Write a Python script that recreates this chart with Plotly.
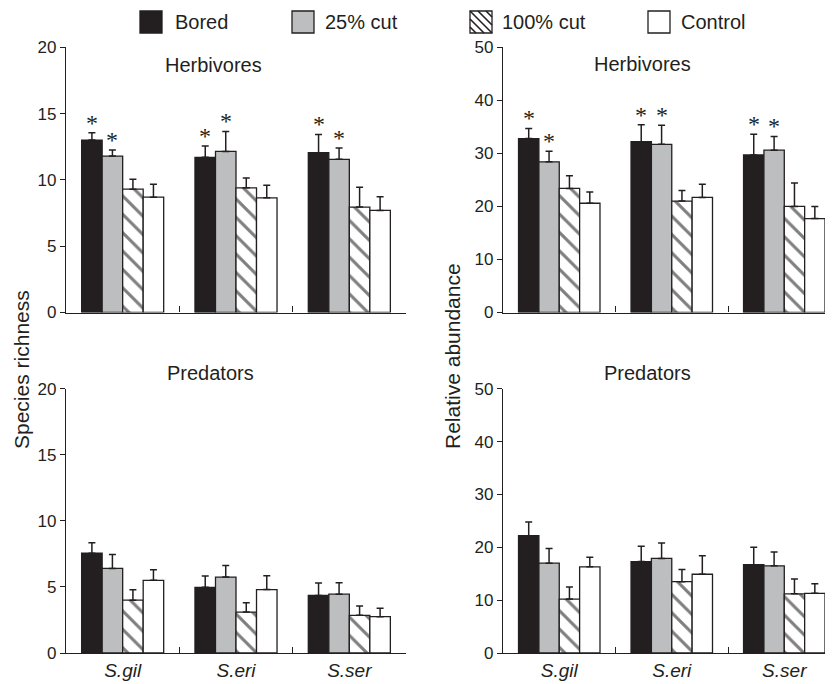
import plotly.graph_objects as go

# ---------------- data ----------------
species = ["S.gil", "S.eri", "S.ser"]
treatments = ["Bored", "25% cut", "100% cut", "Control"]

# Species richness – herbivores
rich_herb_bored = [13.0, 11.7, 12.05]
rich_herb_cut25 = [11.8, 12.15, 11.55]
rich_herb_cut100 = [9.3, 9.4, 7.95]
rich_herb_control = [8.7, 8.65, 7.7]
rich_herb_bored_se = [0.55, 0.86, 1.38]
rich_herb_cut25_se = [0.45, 1.5, 0.85]
rich_herb_cut100_se = [0.75, 0.75, 1.5]
rich_herb_control_se = [0.98, 0.95, 1.03]

# Relative abundance – herbivores
abun_herb_bored = [32.8, 32.2, 29.7]
abun_herb_cut25 = [28.4, 31.7, 30.6]
abun_herb_cut100 = [23.4, 21.0, 20.0]
abun_herb_control = [20.6, 21.7, 17.7]
abun_herb_bored_se = [1.9, 3.2, 3.9]
abun_herb_cut25_se = [2.0, 3.6, 2.6]
abun_herb_cut100_se = [2.4, 2.0, 4.4]
abun_herb_control_se = [2.1, 2.5, 2.3]

# Species richness – predators
rich_pred_bored = [7.55, 4.97, 4.36]
rich_pred_cut25 = [6.4, 5.75, 4.45]
rich_pred_cut100 = [4.0, 3.1, 2.85]
rich_pred_control = [5.5, 4.8, 2.75]
rich_pred_bored_se = [0.8, 0.86, 0.94]
rich_pred_cut25_se = [1.05, 0.88, 0.86]
rich_pred_cut100_se = [0.78, 0.71, 0.71]
rich_pred_control_se = [0.8, 1.04, 0.63]

# Relative abundance – predators
abun_pred_bored = [22.2, 17.3, 16.7]
abun_pred_cut25 = [17.0, 17.9, 16.5]
abun_pred_cut100 = [10.2, 13.5, 11.2]
abun_pred_control = [16.3, 14.9, 11.3]
abun_pred_bored_se = [2.6, 2.9, 3.3]
abun_pred_cut25_se = [2.8, 2.9, 2.6]
abun_pred_cut100_se = [2.3, 2.3, 2.8]
abun_pred_control_se = [1.8, 3.5, 1.8]

# significance markers (*) per treatment, per species
herb_signif = [[True, True, True], [True, True, True], [False] * 3, [False] * 3]
pred_signif = [[False] * 3] * 4

y_ticks_rich = [0, 5, 10, 15, 20]
y_ticks_abun = [0, 10, 20, 30, 40, 50]

panels = [
    dict(ax="", means=[rich_herb_bored, rich_herb_cut25, rich_herb_cut100, rich_herb_control],
         ses=[rich_herb_bored_se, rich_herb_cut25_se, rich_herb_cut100_se, rich_herb_control_se],
         signif=herb_signif),
    dict(ax="2", means=[abun_herb_bored, abun_herb_cut25, abun_herb_cut100, abun_herb_control],
         ses=[abun_herb_bored_se, abun_herb_cut25_se, abun_herb_cut100_se, abun_herb_control_se],
         signif=herb_signif),
    dict(ax="3", means=[rich_pred_bored, rich_pred_cut25, rich_pred_cut100, rich_pred_control],
         ses=[rich_pred_bored_se, rich_pred_cut25_se, rich_pred_cut100_se, rich_pred_control_se],
         signif=pred_signif),
    dict(ax="4", means=[abun_pred_bored, abun_pred_cut25, abun_pred_cut100, abun_pred_control],
         ses=[abun_pred_bored_se, abun_pred_cut25_se, abun_pred_cut100_se, abun_pred_control_se],
         signif=pred_signif),
]

# ---------------- style ----------------
# The page body adds an 8px margin, so the figure is drawn 8px smaller and
# reference pixel positions are converted with that offset.
WIN_W, WIN_H = 833, 684
OFF = 8
W, H = WIN_W - OFF, WIN_H - OFF
INK = "#231f20"
FONT = "Liberation Sans, Arial, Helvetica, sans-serif"
fills = [INK, "#bcbec0", "white", "white"]
patterns = ["", "", "\\", ""]
BARGAP = 0.276
BARW = (1 - BARGAP) / len(treatments)


def px(x):
    return (x - OFF) / W


def py(y):
    return 1 - (y - OFF) / H


fig = go.Figure()
annotations = []

for p in panels:
    xa, ya = "x" + p["ax"], "y" + p["ax"]
    for i, t in enumerate(treatments):
        fig.add_trace(go.Bar(
            x=species, y=p["means"][i], name=t, offsetgroup=t,
            xaxis=xa, yaxis=ya, showlegend=False,
            marker=dict(color=fills[i], line=dict(color=INK, width=1.3),
                        pattern=dict(shape=patterns[i], fgcolor="black", bgcolor="white",
                                     size=13, solidity=0.24)),
            error_y=dict(type="data", symmetric=False, array=p["ses"][i],
                         arrayminus=[0] * len(species), color=INK, thickness=1.5, width=3.5),
        ))
        # significance asterisks above the error bars
        for j, sp in enumerate(species):
            if p["signif"][i][j]:
                annotations.append(dict(
                    x=j + (i - (len(treatments) - 1) / 2) * BARW,
                    y=p["means"][i][j] + p["ses"][i][j],
                    xref=xa, yref=ya, text="*", showarrow=False,
                    xanchor="center", yanchor="middle", yshift=10,
                    font=dict(family="Liberation Serif, Times New Roman, serif",
                              size=24, color=INK)))

xdom_l = [px(66), px(406)]
xdom_r = [px(503), 1.0]
ydom_t = [py(312.5), py(47.3)]
ydom_b = [py(653), py(388.8)]

xcommon = dict(type="category", tickson="boundaries", ticks="inside", ticklen=6,
               tickwidth=1.3, tickcolor=INK, showline=True, linecolor=INK, linewidth=1.3,
               showgrid=False, zeroline=False, automargin=False,
               tickfont=dict(family=FONT, size=19, color=INK, style="italic"))
ycommon = dict(ticks="outside", ticklen=5, tickwidth=1.3, tickcolor=INK, showline=True,
               linecolor=INK, linewidth=1.3, showgrid=False, zeroline=False, automargin=False,
               tickfont=dict(family=FONT, size=17, color=INK))

fig.update_layout(
    width=W, height=H, margin=dict(l=0, r=0, t=0, b=0, pad=0, autoexpand=False),
    paper_bgcolor="white", plot_bgcolor="white",
    barmode="group", bargap=BARGAP, bargroupgap=0,
    showlegend=False,
    xaxis=dict(xcommon, domain=xdom_l, anchor="y", range=[-0.5, 2.5], showticklabels=False),
    yaxis=dict(ycommon, domain=ydom_t, anchor="x", range=[0, 20], tickvals=y_ticks_rich),
    xaxis2=dict(xcommon, domain=xdom_r, anchor="y2", range=[-0.5, 2.433], showticklabels=False),
    yaxis2=dict(ycommon, domain=ydom_t, anchor="x2", range=[0, 50], tickvals=y_ticks_abun),
    xaxis3=dict(xcommon, domain=xdom_l, anchor="y3", range=[-0.5, 2.5]),
    yaxis3=dict(ycommon, domain=ydom_b, anchor="x3", range=[0, 20], tickvals=y_ticks_rich),
    xaxis4=dict(xcommon, domain=xdom_r, anchor="y4", range=[-0.5, 2.433]),
    yaxis4=dict(ycommon, domain=ydom_b, anchor="x4", range=[0, 50], tickvals=y_ticks_abun),
)

shapes = []


def label(text, x, y, size=20, angle=0, xanchor="center"):
    annotations.append(dict(text=text, x=px(x), y=py(y), xref="paper", yref="paper",
                            showarrow=False, xanchor=xanchor, yanchor="middle",
                            textangle=angle, font=dict(family=FONT, size=size, color=INK)))


# panel titles
label("Herbivores", 213, 65)
label("Herbivores", 642, 64)
label("Predators", 210, 373)
label("Predators", 647, 373)
# axis titles
label("Species richness", 21, 370, size=21, angle=-90)
label("Relative abundance", 452, 356, size=21, angle=-90)

# legend (drawn manually with large swatches)
leg_x = [140, 292, 470, 648]
leg_text_x = [173, 323, 500, 679]
sw = 22
ly0, ly1 = 11, 33
for i, t in enumerate(treatments):
    x0, x1 = leg_x[i], leg_x[i] + sw
    shapes.append(dict(type="rect", xref="paper", yref="paper",
                       x0=px(x0), x1=px(x1), y0=py(ly1), y1=py(ly0),
                       fillcolor=fills[i], line=dict(color=INK, width=1.3)))
    if patterns[i]:
        for d in [-16, -8, 0, 8, 16]:
            if d >= 0:
                a, b = (x0 + d, ly0), (x1, ly1 - d)
            else:
                a, b = (x0, ly0 - d), (x1 + d, ly1)
            shapes.append(dict(type="line", xref="paper", yref="paper",
                               x0=px(a[0]), y0=py(a[1]), x1=px(b[0]), y1=py(b[1]),
                               line=dict(color=INK, width=1.6)))
    label(t, leg_text_x[i], 22, size=20, xanchor="left")

fig.update_layout(annotations=annotations, shapes=shapes)

fig.write_html("out.html")
